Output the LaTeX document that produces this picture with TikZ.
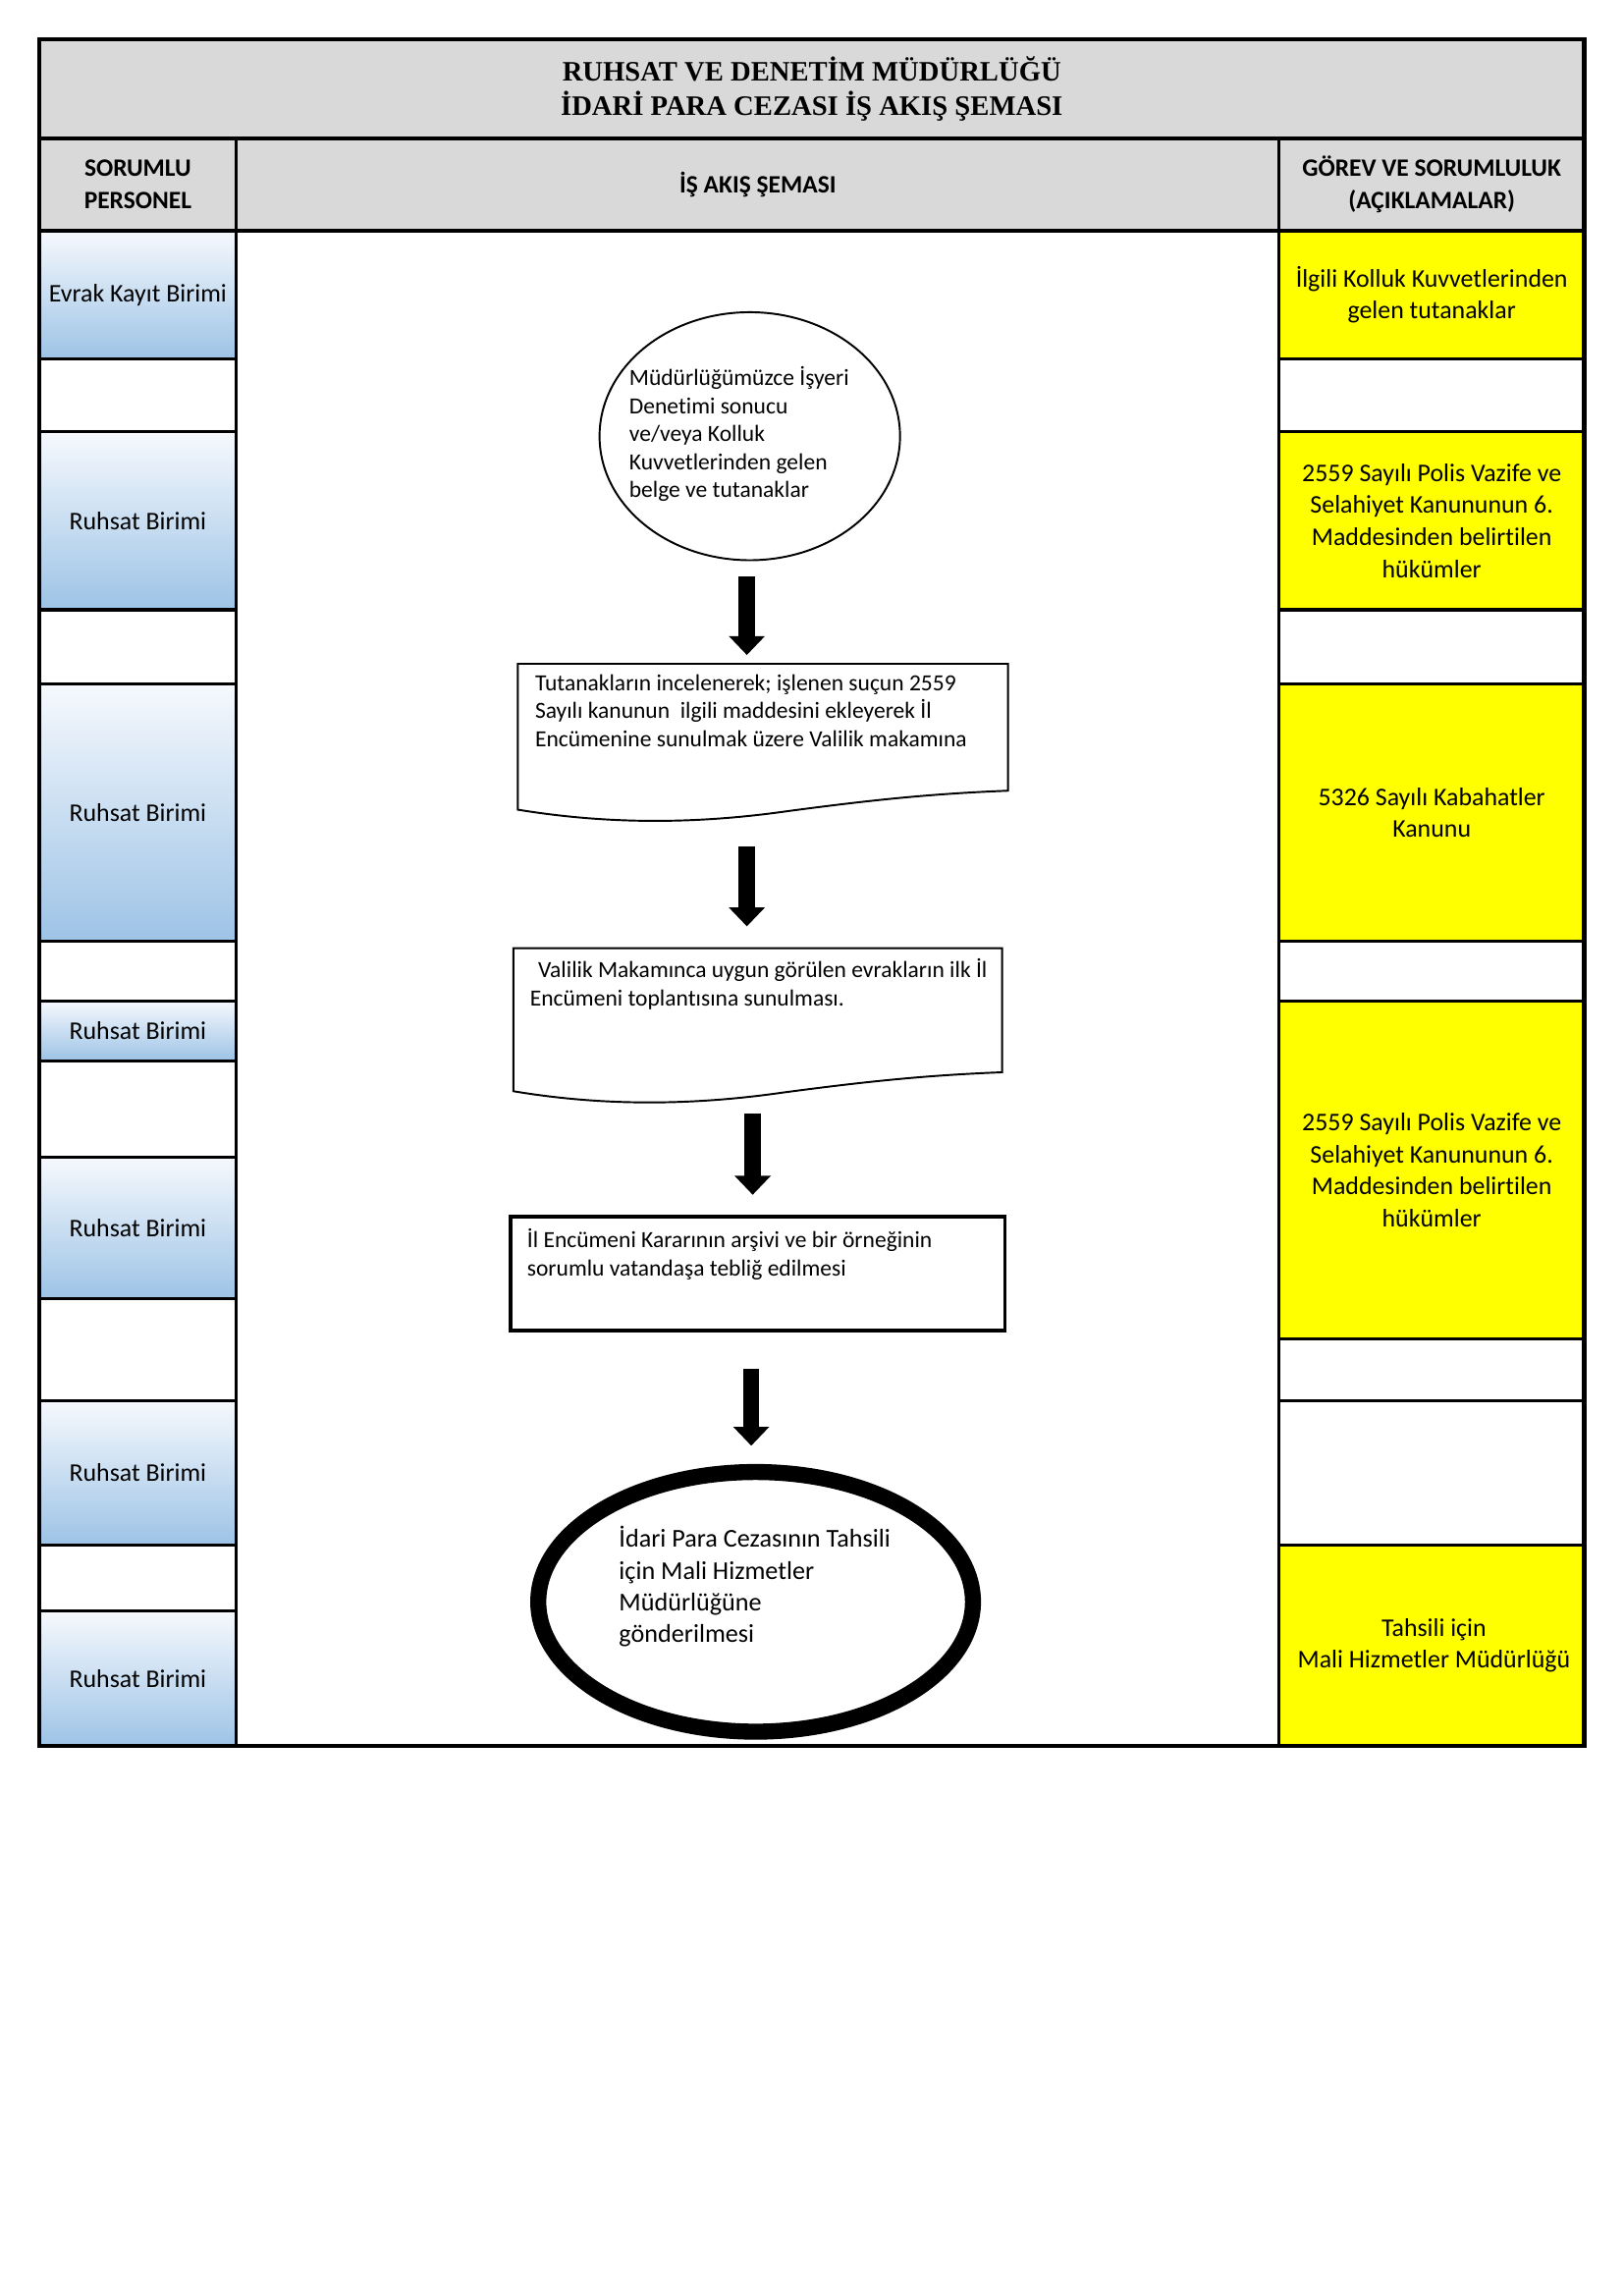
\documentclass[tikz,border=0pt]{standalone}
\usepackage{fontspec}
\setmainfont{Carlito}[Ligatures=NoCommon]
\newfontfamily\titlefont{Liberation Serif}
\usetikzlibrary{arrows.meta,shapes.geometric}
\definecolor{hdrgray}{HTML}{D9D9D9}
\definecolor{blueTop}{RGB}{246,249,253}
\definecolor{blueBot}{RGB}{157,195,230}
\definecolor{yel}{HTML}{FFFF00}
\def\pxu{0.188628mm}
\begin{document}
\begin{tikzpicture}[x=0.188628mm,y=-0.188628mm,
  gridline/.style={draw=black,line width=1.1pt},
  bluecell/.style={gridline,top color=blueTop,bottom color=blueBot},
  yellowcell/.style={gridline,fill=yel},
  whitecell/.style={gridline,fill=white},
  graycell/.style={gridline,fill=hdrgray},
  lbl/.style={font=\fontsize{9.35}{11.8}\selectfont,align=center,inner sep=0pt},
  hdr/.style={font=\bfseries\fontsize{9.2}{11.8}\selectfont,align=center,inner sep=0pt},
  flowtxt/.style={font=\fontsize{8.5}{10.3}\selectfont,align=left,inner sep=0pt,anchor=north west},
  thinshape/.style={draw=black,line width=0.7pt},
  blockarrow/.style={draw=black,line width=11*\pxu,-{Triangle[width=24*\pxu,length=13*\pxu]}}
]
\useasboundingbox[fill=white] (0,0) rectangle (1113.3,1566.3);

% title and header
\draw[graycell] (27,27) rectangle (1086,95);
\node[font=\titlefont\bfseries\fontsize{10.35}{12.9}\selectfont,align=center,inner sep=0pt] (title) at (556.5,61)
  {RUHSAT VE DENETİM MÜDÜRLÜĞÜ\\İDARİ PARA CEZASI İŞ AKIŞ ŞEMASI};
\draw[graycell] (27,95) rectangle (162,158);
\draw[graycell] (162,95) rectangle (877,158);
\draw[graycell] (877,95) rectangle (1086,158);
\node[hdr] (h1) at (94.5,126.5) {SORUMLU\\PERSONEL};
\node[hdr] (h2) at (519.5,126.5) {İŞ AKIŞ ŞEMASI};
\node[hdr] (h3) at (981.5,126.5) {GÖREV VE SORUMLULUK\\(AÇIKLAMALAR)};

% flow area
\draw[whitecell] (162,158) rectangle (877,1197);

% left column
\draw[bluecell] (27,158) rectangle (162,246);
\draw[whitecell] (27,246) rectangle (162,296);
\draw[bluecell] (27,296) rectangle (162,418);
\draw[whitecell] (27,418) rectangle (162,469);
\draw[bluecell] (27,469) rectangle (162,645);
\draw[whitecell] (27,645) rectangle (162,686);
\draw[bluecell] (27,686) rectangle (162,727);
\draw[whitecell] (27,727) rectangle (162,793);
\draw[bluecell] (27,793) rectangle (162,890);
\draw[whitecell] (27,890) rectangle (162,960);
\draw[bluecell] (27,960) rectangle (162,1059);
\draw[whitecell] (27,1059) rectangle (162,1104);
\draw[bluecell] (27,1104) rectangle (162,1197);
\node[lbl] (p1) at (94.5,202) {Evrak Kayıt Birimi};
\node[lbl] (p2) at (94.5,357) {Ruhsat Birimi};
\node[lbl] (p3) at (94.5,557) {Ruhsat Birimi};
\node[lbl] (p4) at (94.5,706.5) {Ruhsat Birimi};
\node[lbl] (p5) at (94.5,841.5) {Ruhsat Birimi};
\node[lbl] (p6) at (94.5,1009.5) {Ruhsat Birimi};
\node[lbl] (p7) at (94.5,1150.5) {Ruhsat Birimi};

% right column
\draw[yellowcell] (877,158) rectangle (1086,246);
\draw[whitecell] (877,246) rectangle (1086,296);
\draw[yellowcell] (877,296) rectangle (1086,418);
\draw[whitecell] (877,418) rectangle (1086,469);
\draw[yellowcell] (877,469) rectangle (1086,645);
\draw[whitecell] (877,645) rectangle (1086,686);
\draw[yellowcell] (877,686) rectangle (1086,918);
\draw[whitecell] (877,918) rectangle (1086,960);
\draw[whitecell] (877,960) rectangle (1086,1059);
\draw[yellowcell] (877,1059) rectangle (1086,1197);
\node[lbl] (r1) at (981.5,202) {İlgili Kolluk Kuvvetlerinden\\gelen tutanaklar};
\node[lbl] (r2) at (981.5,357) {2559 Sayılı Polis Vazife ve\\Selahiyet Kanununun 6.\\Maddesinden belirtilen\\hükümler};
\node[lbl] (r3) at (981.5,557) {5326 Sayılı Kabahatler\\Kanunu};
\node[lbl] (r4) at (981.5,802) {2559 Sayılı Polis Vazife ve\\Selahiyet Kanununun 6.\\Maddesinden belirtilen\\hükümler};
\node[lbl] (r5) at (983,1128) {Tahsili için\\Mali Hizmetler Müdürlüğü};

% outer and strong lines
\draw[line width=1.5pt] (27,27) rectangle (1086,1197);
\draw[line width=1.5pt] (27,95) -- (1086,95);
\draw[line width=1.5pt] (27,158) -- (1086,158);

% flow shapes
\node[ellipse,thinshape,minimum width=206*\pxu,minimum height=170*\pxu,inner sep=0pt] (c1) at (514,299) {};
\node[flowtxt] (c1t) at (431,251) {Müdürlüğümüzce İşyeri\\Denetimi sonucu\\ve/veya Kolluk\\Kuvvetlerinden gelen\\belge ve tutanaklar};

\draw[thinshape] (355,555) -- (355,455) -- (691,455) -- (691,542)
  .. controls (640,544) and (600,548) .. (540,556)
  .. controls (470,566) and (410,564) .. (355,555) -- cycle;
\node[flowtxt] (d1t) at (366.5,462) {Tutanakların incelenerek; işlenen suçun 2559\\Sayılı kanunun\ \ ilgili maddesini ekleyerek İl\\Encümenine sunulmak üzere Valilik makamına};

\draw[thinshape] (352,748) -- (352,650) -- (687,650) -- (687,735)
  .. controls (636,737) and (596,741) .. (536,749)
  .. controls (466,759) and (406,757) .. (352,748) -- cycle;
\node[flowtxt] (d2t) at (363,657) {\hspace{3pt}Valilik Makamınca uygun görülen evrakların ilk İl\\Encümeni toplantısına sunulması.};

\node[rectangle,draw=black,line width=1.3pt,minimum width=339*\pxu,minimum height=78*\pxu,inner sep=0pt] (b1) at (519.5,873) {};
\node[flowtxt] (b1t) at (361,842) {İl Encümeni Kararının arşivi ve bir örneğinin\\sorumlu vatandaşa tebliğ edilmesi};

\node[ellipse,draw=black,line width=11*\pxu,minimum width=298*\pxu,minimum height=178*\pxu,inner sep=0pt] (e1) at (518,1098) {};
\node[font=\fontsize{9.45}{11.6}\selectfont,align=left,inner sep=0pt,anchor=north west] (e1t) at (424,1046) {İdari Para Cezasının Tahsili\\için Mali Hizmetler\\Müdürlüğüne\\gönderilmesi};

% arrows
\coordinate (a1s) at (512,395); \coordinate (a1e) at (512,449);
\coordinate (a2s) at (512,580); \coordinate (a2e) at (512,635);
\coordinate (a3s) at (516,763); \coordinate (a3e) at (516,819);
\coordinate (a4s) at (515,938); \coordinate (a4e) at (515,991);
\draw[blockarrow] (a1s) -- (a1e);
\draw[blockarrow] (a2s) -- (a2e);
\draw[blockarrow] (a3s) -- (a3e);
\draw[blockarrow] (a4s) -- (a4e);
\end{tikzpicture}
\end{document}
